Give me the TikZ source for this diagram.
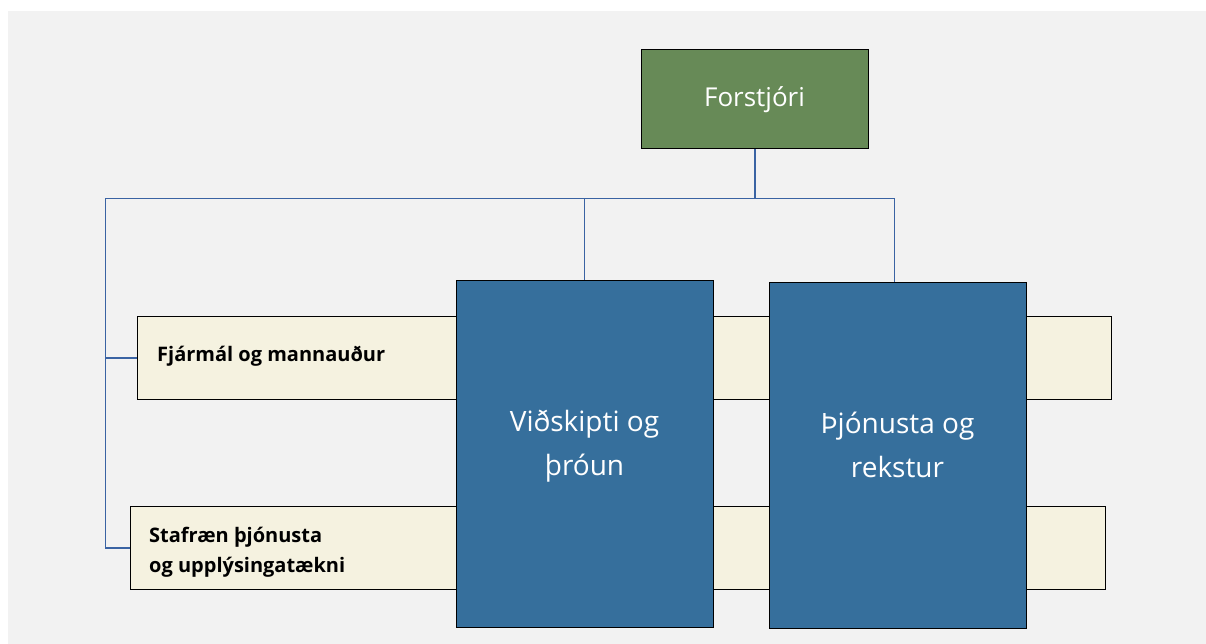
\documentclass[tikz,border=0pt]{standalone}
\usepackage{fontspec}
\setmainfont{Open Sans}
\definecolor{bgC}{HTML}{F2F2F2}
\definecolor{creamC}{HTML}{F5F2E0}
\definecolor{blueC}{HTML}{366F9C}
\definecolor{greenC}{HTML}{678A57}
\definecolor{lineC}{HTML}{3A63A3}
\tikzset{
  creambox/.style={draw=black, line width=1.3pt, fill=creamC, anchor=north west, inner sep=0pt},
  bluebox/.style={draw=black, line width=1.3pt, fill=blueC, anchor=north west, inner sep=0pt},
  greenbox/.style={draw=black, line width=1.3pt, fill=greenC, anchor=north west, inner sep=0pt},
  link/.style={draw=lineC, line width=1.5pt},
  whitetxt/.style={text=white, font=\fontsize{28}{44}\selectfont, align=center, inner sep=0pt},
  boldtxt/.style={text=black, font=\fontsize{20}{30}\selectfont\bfseries, align=left, inner sep=0pt},
}
\begin{document}
\begin{tikzpicture}[x=1pt,y=-1pt]
\useasboundingbox (0,0) rectangle (1206,644);
\fill[white] (0,0) rectangle (1206,644);
\fill[bgC] (8,11) rectangle (1206,644);
% boxes
\node[greenbox, minimum width=227pt, minimum height=99pt] (ceo) at (641,49) {};
\node[creambox, minimum width=974pt, minimum height=83pt] (fin) at (137,316) {};
\node[creambox, minimum width=975pt, minimum height=83pt] (dig) at (129.5,506) {};
% connectors
\coordinate (busL) at (105.5,198.5);
\coordinate (busR) at (894.7,198.5);
\draw[link] (ceo.south) -- (ceo.south |- busL);
\draw[link] (busL) -- (busR);
\draw[link] (busR) -- (busR |- 0,281.5);
\draw[link] (584.5,198.5) -- (584.5,280);
\draw[link] (busL) -- (busL |- dig.west) -- (dig.west);
\draw[link] (busL |- fin.west) -- (fin.west);
% blue boxes on top
\node[bluebox, minimum width=257pt, minimum height=347pt] (vid) at (456,280) {};
\node[bluebox, minimum width=257pt, minimum height=346pt] (thj) at (769,281.5) {};
% texts
\node[whitetxt, font=\fontsize{26}{30}\selectfont, anchor=base] (ceot) at (754.5,107) {Forstjóri};
\node[whitetxt, anchor=center] (vidt) at (584.5,446) {Viðskipti og\\þróun};
\node[whitetxt, anchor=center] (thjt) at (897.5,445) {Þjónusta og\\rekstur};
\node[boldtxt, anchor=base west] (fint) at (157,361) {Fjármál og mannauður};
\node[boldtxt, anchor=west] (digt) at (149,552) {Stafræn þjónusta\\og upplýsingatækni};
\end{tikzpicture}
\end{document}
